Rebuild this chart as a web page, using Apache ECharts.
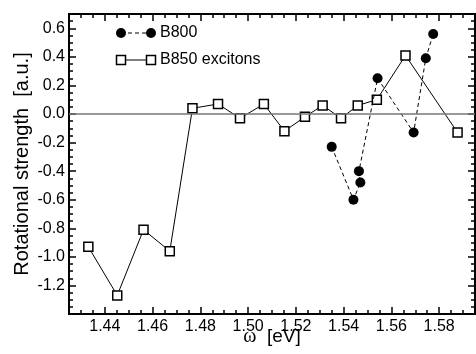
<!DOCTYPE html>
<html>
<head>
<meta charset="UTF-8">
<title>Rotational strength</title>
<script src="https://cdn.jsdelivr.net/npm/echarts@6/dist/echarts.min.js"></script>
<style>
	html, body { margin: 0; padding: 0; background: #fff; }
	#main { width: 476px; height: 354px; }
</style>
</head>
<body>
<div id="main"></div>
<script>
	// B850 excitons (open squares, solid line)
	var b850X = [1.4331, 1.4452, 1.4562, 1.4672, 1.4767, 1.4874, 1.4966, 1.5066, 1.5152, 1.5238, 1.5312, 1.5389, 1.5459, 1.5539, 1.5659, 1.5877];
	var b850Y = [-0.93, -1.27, -0.81, -0.96, 0.04, 0.07, -0.03, 0.07, -0.12, -0.02, 0.06, -0.03, 0.06, 0.10, 0.41, -0.13];
	// B800 (filled circles, dashed line), in plotting order
	var b800X = [1.5350, 1.5441, 1.5470, 1.5464, 1.5542, 1.5693, 1.5744, 1.5775];
	var b800Y = [-0.23, -0.60, -0.48, -0.40, 0.25, -0.13, 0.39, 0.56];
	// labelled ticks on the energy axis
	var xMajorTicks = [1.44, 1.46, 1.48, 1.50, 1.52, 1.54, 1.56, 1.58];

	var font = 'Liberation Sans';
	var xMin = 1.425, xMax = 1.595;
	var yMin = -1.4, yMax = 0.7;

	function pairs(xs, ys) {
		var out = [];
		for (var i = 0; i < xs.length; i++) out.push([xs[i], ys[i]]);
		return out;
	}

	function minorX(pos) {
		return {
			type: 'value', position: pos, min: xMin, max: xMax, interval: 0.005,
			axisLine: { show: true, onZero: false, lineStyle: { color: '#000', width: 2 } },
			axisTick: { show: true, inside: true, length: 4, lineStyle: { color: '#000', width: 1.5 } },
			axisLabel: { show: false },
			splitLine: { show: false }
		};
	}
	function majorX(pos, withLabels) {
		var ax = {
			type: 'value', position: pos, min: xMin, max: xMax,
			axisLine: { show: false, onZero: false },
			axisTick: { show: true, inside: true, length: 7, customValues: xMajorTicks, lineStyle: { color: '#000', width: 1.5 } },
			axisLabel: { show: withLabels, customValues: xMajorTicks, margin: 5, color: '#000', fontFamily: font, fontSize: 16,
				formatter: function (v) { return v.toFixed(2); } },
			splitLine: { show: false }
		};
		if (withLabels) {
			ax.name = '{w|ω}  [eV]';
			ax.nameLocation = 'middle';
			ax.nameGap = 13;
			ax.nameMoveOverlap = false;
			ax.nameTextStyle = { color: '#000', fontFamily: font, fontSize: 19, verticalAlign: 'top',
				rich: { w: { fontFamily: 'Liberation Serif', fontSize: 20, color: '#000' } } };
		}
		return ax;
	}
	function yAx(pos, withLabels) {
		var ax = {
			type: 'value', position: pos, min: yMin, max: yMax, interval: 0.2,
			axisLine: { show: true, onZero: false, lineStyle: { color: '#000', width: 2 } },
			axisTick: { show: true, inside: true, length: 7, lineStyle: { color: '#000', width: 1.5 } },
			minorTick: { show: true, splitNumber: 4, length: 4, lineStyle: { color: '#000', width: 1.5 } },
			axisLabel: { show: withLabels, showMaxLabel: false, showMinLabel: false, margin: 4, color: '#000', fontFamily: font, fontSize: 16,
				formatter: function (v) { return v.toFixed(1); } },
			splitLine: { show: false }
		};
		if (withLabels) {
			ax.name = 'Rotational strength  [a.u.]';
			ax.nameLocation = 'middle';
			ax.nameGap = 37;
			ax.nameMoveOverlap = false;
			ax.nameTextStyle = { color: '#000', fontFamily: font, fontSize: 20 };
		}
		return ax;
	}

	var myChart = echarts.init(document.getElementById('main'), null, { renderer: 'canvas' });
	var option = {
		animation: false,
		backgroundColor: '#fff',
		grid: { left: 69, right: 1, top: 14, bottom: 40, containLabel: false, outerBoundsMode: 'none',
			show: true, borderColor: '#000', borderWidth: 2, backgroundColor: 'transparent' },
		xAxis: [minorX('bottom'), majorX('bottom', true), minorX('top'), majorX('top', false)],
		yAxis: [yAx('left', true), yAx('right', false)],
		graphic: [
			// legend samples
			{ type: 'line', shape: { x1: 121, y1: 33, x2: 151, y2: 33 }, style: { stroke: '#000', lineWidth: 1, lineDash: [4, 3] } },
			{ type: 'circle', shape: { cx: 121, cy: 33, r: 5 }, style: { fill: '#000' } },
			{ type: 'circle', shape: { cx: 151, cy: 33, r: 5 }, style: { fill: '#000' } },
			{ type: 'text', x: 160, y: 33, style: { text: 'B800', fill: '#000', font: '16px "Liberation Sans"', verticalAlign: 'middle' } },
			{ type: 'line', shape: { x1: 121, y1: 60, x2: 151, y2: 60 }, style: { stroke: '#000', lineWidth: 1 } },
			{ type: 'rect', shape: { x: 116.5, y: 55.5, width: 9, height: 9 }, style: { fill: '#fff', stroke: '#000', lineWidth: 1.5 } },
			{ type: 'rect', shape: { x: 146.5, y: 55.5, width: 9, height: 9 }, style: { fill: '#fff', stroke: '#000', lineWidth: 1.5 } },
			{ type: 'text', x: 160, y: 60, style: { text: 'B850 excitons', fill: '#000', font: '16px "Liberation Sans"', verticalAlign: 'middle' } }
		],
		series: [{
			name: 'B850 excitons',
			type: 'line',
			xAxisIndex: 0,
			yAxisIndex: 0,
			data: pairs(b850X, b850Y),
			symbol: 'rect',
			symbolSize: 9,
			itemStyle: { color: '#fff', borderColor: '#000', borderWidth: 1.5 },
			lineStyle: { color: '#000', width: 1 },
			markLine: {
				silent: true,
				symbol: ['none', 'none'],
				label: { show: false },
				lineStyle: { color: '#777', width: 1.5, type: 'solid' },
				data: [{ yAxis: 0 }]
			},
			z: 3
		}, {
			name: 'B800',
			type: 'line',
			xAxisIndex: 0,
			yAxisIndex: 0,
			data: pairs(b800X, b800Y),
			symbol: 'circle',
			symbolSize: 10,
			itemStyle: { color: '#000' },
			lineStyle: { color: '#000', width: 1, type: [4, 3] },
			z: 4
		}]
	};
	myChart.setOption(option);
</script>
</body>
</html>
